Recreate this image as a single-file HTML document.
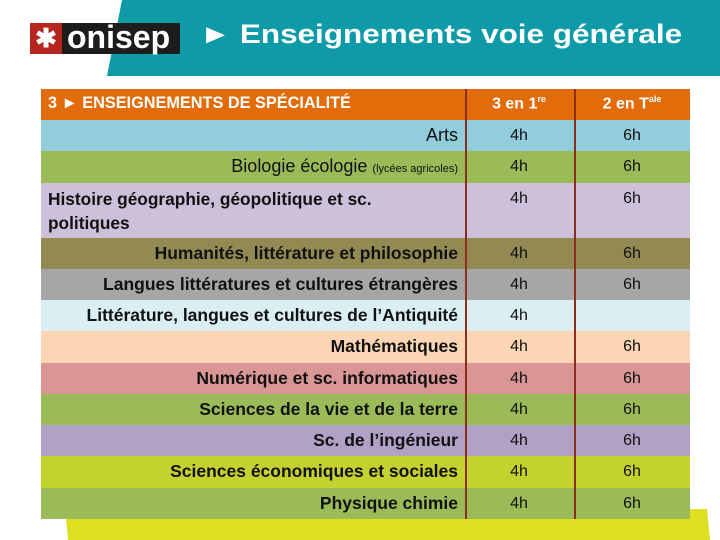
<!DOCTYPE html>
<html><head><meta charset="utf-8">
<style>
body{margin:0;width:720px;height:540px;background:#fff;position:relative;overflow:hidden;font-family:"Liberation Sans",sans-serif;}
.abs{position:absolute;}
.row{position:absolute;left:41px;width:649px;}
.lbl{position:absolute;right:232px;text-align:right;font-size:17.5px;color:#111;font-weight:bold;white-space:nowrap;}
.v{position:absolute;width:108px;text-align:center;font-size:16px;color:#111;}
</style></head>
<body>
<svg class="abs" style="left:0;top:0" width="720" height="540">
<polygon points="122,0 720,0 720,76 107,76" fill="#0E9AA7"/>
<polygon points="66,518 707,509 710,540 68,540" fill="#DCE021"/>
</svg>
<div class="abs" style="left:30px;top:23px;width:150px;height:31px;background:#1d1d1b;">
<div style="position:absolute;left:0;top:0;width:32px;height:31px;background:#B5261E;color:#fff;font-size:26px;line-height:31px;text-align:center;font-weight:bold;">✱</div>
<div style="position:absolute;left:37px;top:-4px;color:#fff;font-size:32px;font-weight:bold;">onisep</div>
</div>
<div class="abs" style="left:200px;top:19px;color:#fff;font-size:27px;font-weight:bold;white-space:nowrap;transform:scaleX(1.165);transform-origin:left top;">► Enseignements voie générale</div>

<div id="tbl"></div>
<script>
const subjects=["Arts","Biologie écologie","Histoire géographie, géopolitique et sc. politiques","Humanités, littérature et philosophie","Langues littératures et cultures étrangères","Littérature, langues et cultures de l’Antiquité","Mathématiques","Numérique et sc. informatiques","Sciences de la vie et de la terre","Sc. de l’ingénieur","Sciences économiques et sociales","Physique chimie"];
const hours1=["4h","4h","4h","4h","4h","4h","4h","4h","4h","4h","4h","4h"];
const hours2=["6h","6h","6h","6h","6h","","6h","6h","6h","6h","6h","6h"];
const colors=["#92CDDC","#9BBB59","#CCC0DA","#938953","#A6A6A6","#DAEEF3","#FCD5B4","#D99694","#9BBB59","#B2A1C7","#C4D230","#9BBB59"];
const heights=[31,32,55,31,31,31,32,31,31,31,32,31];
const tbl=document.getElementById('tbl');
function mk(tag,cls,css,txt){const e=document.createElement(tag);if(cls)e.className=cls;e.style.cssText=css;if(txt!==undefined)e.innerHTML=txt;return e;}
const hd=mk('div','row','top:89px;height:31px;background:#E36C0A;');


const h0=mk('div','abs','left:7px;top:5px;color:#fff;font-weight:bold;font-size:16.3px;white-space:nowrap;','3 ► ENSEIGNEMENTS DE SPÉCIALITÉ');


const h1=mk('div','v','left:424px;top:5px;color:#fff;font-weight:bold;','3 en 1<sup style="font-size:9px">re</sup>');


const h2=mk('div','v','left:537px;top:5px;color:#fff;font-weight:bold;','2 en T<sup style="font-size:9px">ale</sup>');


hd.append(h0,h1,h2);tbl.appendChild(hd);
let y=120;
subjects.forEach((s,i)=>{
 const r=mk('div','row',`top:${y}px;height:${heights[i]}px;background:${colors[i]};`);
 
 
 let l;
 if(i===2){l=mk('div','abs',`left:7px;top:4px;width:345px;font-size:17.3px;font-weight:bold;line-height:24px;color:#111;`,s);}
 else if(i<2){l=mk('div','lbl',`top:5px;font-weight:normal;font-size:18px;`,s+(i===1?' <span style="font-size:11px">(lycées agricoles)</span>':''));}
 else{l=mk('div','lbl',`top:5px;`,s);}
 
 
 const a=mk('div','v','left:424px;top:7px;',hours1[i]);
 
 
 const b=mk('div','v','left:537px;top:7px;',hours2[i]);
 
 
 r.append(l,a,b);tbl.appendChild(r);y+=heights[i];
});
[465,574].forEach(x=>{const d=mk('div','abs',`left:${x}px;top:89px;width:2px;height:${y-89}px;background:#8B2E1E;`);
 
 
 tbl.appendChild(d);});
</script>
</body></html>
